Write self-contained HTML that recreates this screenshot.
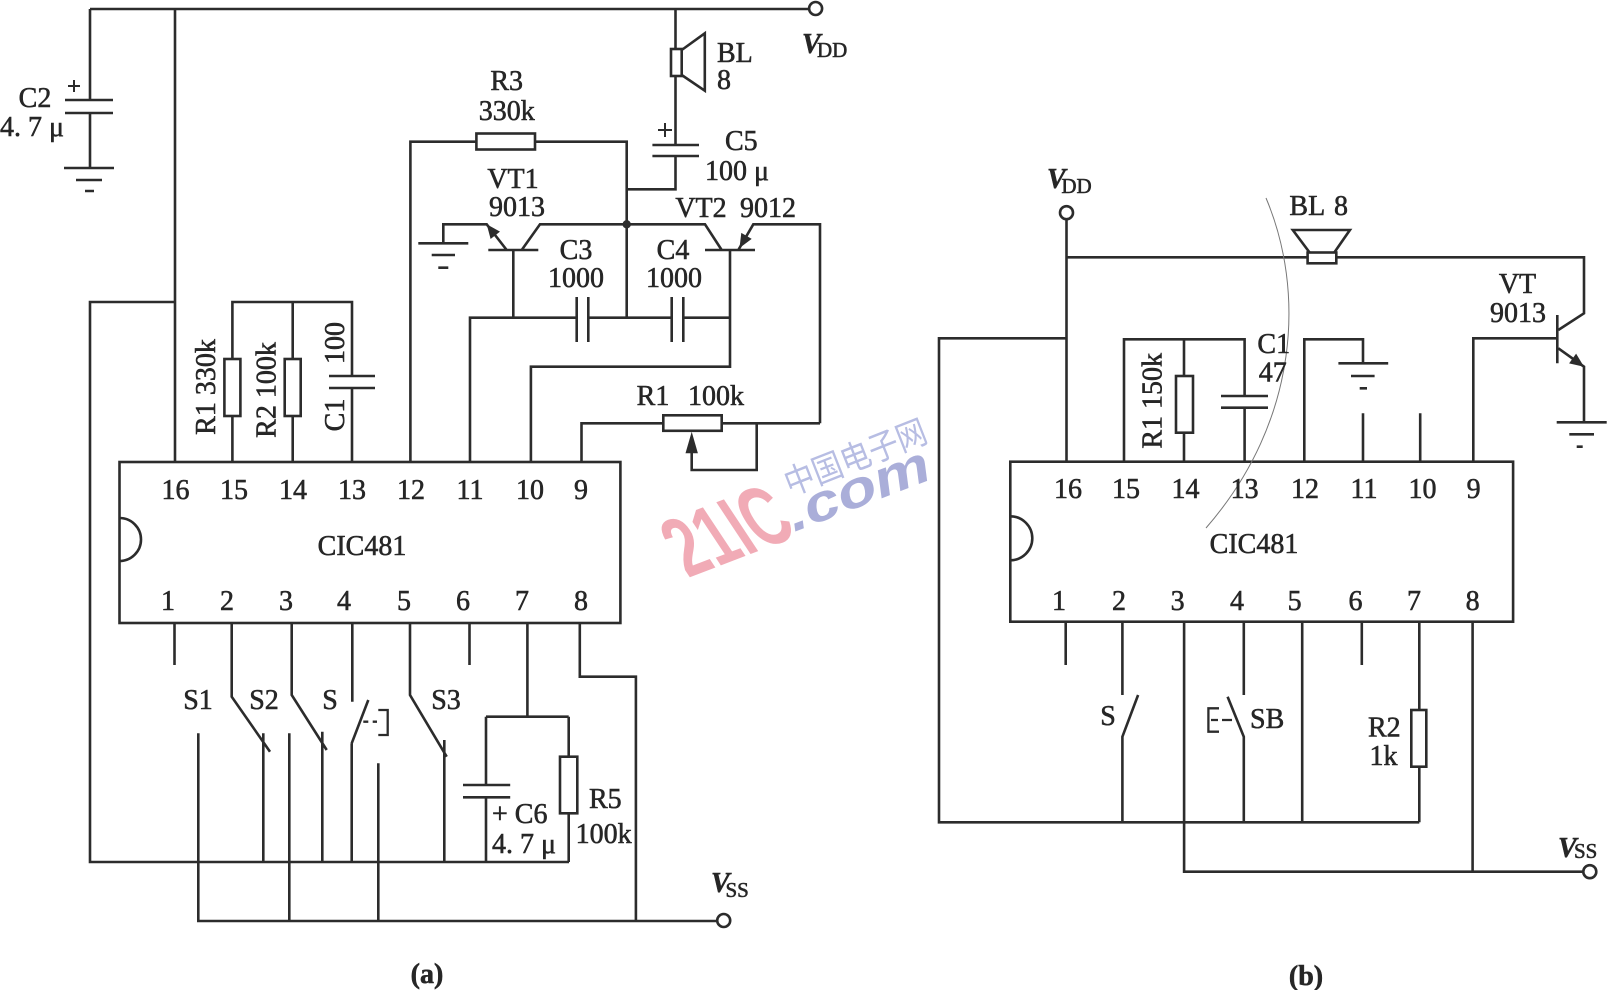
<!DOCTYPE html>
<html>
<head>
<meta charset="utf-8">
<style>
  html,body{margin:0;padding:0;background:#fff;}
  svg{display:block;}
  .w{fill:none;stroke:#2c2c2c;stroke-width:2.6;stroke-linejoin:miter;}
  .t{font-family:"Liberation Serif","Noto Serif CJK SC",serif;font-size:28px;fill:#262626;stroke:#262626;stroke-width:0.55;}
  .m{text-anchor:middle;}
  .e{text-anchor:end;}
  .vi{font-style:italic;font-weight:bold;}
  .sub{font-size:21px;}
</style>
</head>
<body>
<svg width="1608" height="990" viewBox="0 0 1608 990" xmlns="http://www.w3.org/2000/svg">
<rect width="1608" height="990" fill="#fff"/>

<!-- watermark -->
<g transform="translate(790,496) rotate(-21.5)">
  <text x="0" y="0" font-family="Noto Sans CJK SC, WenQuanYi Zen Hei, sans-serif" font-size="34" fill="#b7bde3" textLength="150" lengthAdjust="spacingAndGlyphs">中国电子网</text>
</g>
<g transform="translate(688,578) rotate(-21) skewX(12.5)">
  <text x="0" y="0" font-family="Liberation Sans, sans-serif" font-weight="bold" font-size="88" fill="#f1abb6" textLength="120" lengthAdjust="spacingAndGlyphs">21IC</text>
</g>
<g transform="translate(794,532) rotate(-21)">
  <text x="0" y="0" font-family="Liberation Sans, sans-serif" font-weight="bold" font-style="italic" font-size="52" fill="#aaaed9" textLength="150" lengthAdjust="spacingAndGlyphs">.com</text>
</g>

<!-- ================= (a) ================= -->
<g class="w">
  <path d="M90,9 H809"/>
  <circle cx="815.6" cy="8.5" r="6.5"/>
  <path d="M90,9 V100 M65,100 H113 M65,113 H113 M90,113 V168 M64,168 H114 M76,180 H102 M85,191 H94"/>
  <path d="M68,86 H80 M74,80 V92" stroke-width="2"/>
  <path d="M175,9 V462"/>
  <path d="M175,302 H90 V862 H569"/>
  <path d="M232.4,462 V416 M232.4,359 V302 H352 V376 M329,376 H375 M329,388 H375 M352,388 V462 M292.7,302 V359 M292.7,416 V462"/>
  <rect x="224.4" y="359" width="16" height="57" fill="#fff"/>
  <rect x="284.7" y="359" width="16" height="57" fill="#fff"/>
  <path d="M410.4,462 V141.7 H476.4 M535,141.7 H626.7 V317.7"/>
  <rect x="476.4" y="133.5" width="58.6" height="16" fill="#fff"/>
  <path d="M675.5,9 V49 M675.5,76 V145 M652.4,145 H699 M652.4,156 H699 M675.5,156 V189.3 H626.7"/>
  <rect x="671" y="49" width="10.7" height="27" fill="#fff"/>
  <path d="M681.7,50 L704.8,33.3 V90.7 L681.7,75"/>
  <path d="M658,130 H672 M665,123 V137" stroke-width="2"/>
  <path d="M488.3,250 H538.3 M513.3,250 V317.7 M521.7,250 L540,224.3 H626.7 M506.7,250 L486.7,224.3 H443.3 V243.3 M418.3,243.3 H468.3 M431.7,255 H455 M438.3,267.7 H448.3"/>
  <path d="M705,250 H755 M626.7,224.3 H705 L721.7,250 M738.3,250 L753.3,224.3 H820 V423.3 M730,250 V366.7 H530.9 V462"/>
  <path d="M470,462 V317.7 H576.7 M576.7,297 V342 M588.3,297 V342 M588.3,317.7 H671.7 M671.7,297 V342 M683.3,297 V342 M683.3,317.7 H730"/>
  <path d="M581.5,462 V423.3 H663.3 M721.7,423.3 H820 M756.7,423.3 V470 H691.7 V452"/>
  <rect x="663.3" y="415.3" width="58.4" height="15.5" fill="#fff"/>
  <rect x="119.5" y="462" width="500.9" height="161" fill="none"/>
  <path d="M119.5,518 A21.5,21.5 0 0 1 119.5,561"/>
  <path d="M174.5,623 V665 M469.5,623 V665"/>
  <path d="M231.7,623 V696.7 L270,751.7 M263.3,733.3 V862"/>
  <path d="M291.7,623 V695 L326.7,750 M322.3,731.7 V862"/>
  <path d="M352.3,623 V701.7 M351.7,743.3 L368.3,700 M351.7,743.3 V862"/>
  <path d="M363.3,721.7 H368.3 M372.7,721.7 H377 M378.3,710 H387.7 V735 H378.3" stroke-width="2.3"/>
  <path d="M410,623 V695 L446.7,756.7 M444.3,740 V862"/>
  <path d="M527.4,623 V716.7 M486,716.7 H568.7 M486,716.7 V785 M463,785 H510.2 M463,797.3 H510.2 M486,797.3 V862 M568.7,716.7 V756.7 M568.7,813.3 V862"/>
  <rect x="560" y="756.7" width="17.3" height="56.6" fill="#fff"/>
  <path d="M579.8,623 V676.7 H635.9 V921"/>
  <path d="M198.3,733.3 V921 H717.2 M289.3,733.3 V921 M378.3,763.3 V921"/>
  <circle cx="723.7" cy="920.5" r="6.5"/>
</g>
<circle cx="626.7" cy="224.3" r="4.2" fill="#2c2c2c"/>
<polygon points="486.7,224.3 500.0,231.6 490.6,239.0" fill="#2c2c2c"/>
<polygon points="739.5,248 751.7,238.9 741.3,232.9" fill="#2c2c2c"/>
<polygon points="691.7,431.7 685.5,453.3 697.9,453.3" fill="#2c2c2c"/>

<g class="t">
  <text x="35" y="107" class="m">C2</text>
  <text x="64" y="136" class="e">4. 7 μ</text>
  <text x="506.7" y="90" class="m">R3</text>
  <text x="506.7" y="120" class="m">330k</text>
  <text x="717" y="62">BL</text>
  <text x="717" y="89">8</text>
  <text x="802" y="53" class="vi">V</text><text x="817" y="57" class="sub">DD</text>
  <text x="725" y="150">C5</text>
  <text x="705" y="180">100 μ</text>
  <text x="513" y="188" class="m">VT1</text>
  <text x="517" y="216" class="m">9013</text>
  <text x="701" y="217" class="m">VT2</text>
  <text x="768" y="217" class="m">9012</text>
  <text x="576" y="259" class="m">C3</text>
  <text x="576" y="287" class="m">1000</text>
  <text x="673" y="259" class="m">C4</text>
  <text x="674" y="287" class="m">1000</text>
  <text x="653" y="405" class="m">R1</text>
  <text x="716" y="405" class="m">100k</text>
  <text transform="translate(215,387) rotate(-90)" class="m">R1 330k</text>
  <text transform="translate(275.5,390) rotate(-90)" class="m">R2 100k</text>
  <text transform="translate(344,415) rotate(-90)" class="m">C1</text>
  <text transform="translate(344,343) rotate(-90)" class="m">100</text>
  <text x="175.5" y="499" class="m">16</text>
  <text x="234" y="499" class="m">15</text>
  <text x="293" y="499" class="m">14</text>
  <text x="352" y="499" class="m">13</text>
  <text x="411" y="499" class="m">12</text>
  <text x="470" y="499" class="m">11</text>
  <text x="530" y="499" class="m">10</text>
  <text x="581" y="499" class="m">9</text>
  <text x="362" y="555" class="m">CIC481</text>
  <text x="168" y="610" class="m">1</text>
  <text x="227" y="610" class="m">2</text>
  <text x="286" y="610" class="m">3</text>
  <text x="344" y="610" class="m">4</text>
  <text x="404" y="610" class="m">5</text>
  <text x="463" y="610" class="m">6</text>
  <text x="522" y="610" class="m">7</text>
  <text x="581" y="610" class="m">8</text>
  <text x="198" y="709" class="m">S1</text>
  <text x="264" y="709" class="m">S2</text>
  <text x="330" y="709" class="m">S</text>
  <text x="446" y="709" class="m">S3</text>
  <text x="492" y="823">+ C6</text>
  <text x="492" y="853">4. 7 μ</text>
  <text x="589" y="808">R5</text>
  <text x="575.6" y="843">100k</text>
  <text x="711" y="892" class="vi">V</text><text x="725.5" y="897" class="sub">SS</text>
  <text x="427" y="983" class="m" font-weight="bold">(a)</text>
</g>

<!-- ================= (b) ================= -->
<g class="w">
  <circle cx="1066.5" cy="212.7" r="6.5"/>
  <path d="M1066.5,219.2 V461.7"/>
  <path d="M1066.5,257.3 H1584 V313.3 L1558.3,330"/>
  <rect x="1307.6" y="252.5" width="28.7" height="10.8" fill="#fff"/>
  <path d="M1309.6,252.5 L1292.8,230 H1349.9 L1334.3,252.5"/>
  <path d="M1557.3,315 V363.3 M1473.3,461.7 V338.3 H1557.3 M1558.3,348.3 L1584,366.7 V422.3 M1556.7,422.3 H1606.7 M1569.3,434.3 H1594 M1576.7,446.7 H1582.7"/>
  <path d="M1066.5,338.3 H939 V822.3 H1419.3"/>
  <path d="M1124,461.7 V339.3 H1244.6 V396 M1221,396 H1268 M1221,407.7 H1268 M1244.6,407.7 V461.7 M1184,339.3 V376 M1184,432.7 V461.7"/>
  <rect x="1176" y="376" width="17" height="56.7" fill="#fff"/>
  <path d="M1304.3,461.7 V339.3 H1363 V363.3 M1338.4,363.3 H1388.2 M1351,376 H1374.6 M1359.7,388.3 H1367"/>
  <path d="M1363,461.7 V413.3 M1420.2,461.7 V413.3"/>
  <rect x="1010.3" y="461.7" width="502.8" height="160" fill="none"/>
  <path d="M1010.3,516.3 A22,22 0 0 1 1010.3,560.3"/>
  <path d="M1065.7,621.7 V665 M1361.8,621.7 V665"/>
  <path d="M1122.4,621.7 V695 M1138.1,695 L1122.4,736.7 V822.3"/>
  <path d="M1243.8,621.7 V695 M1227.6,696.7 L1243.8,736.7 V822.3"/>
  <path d="M1219,708.3 H1208.4 V731.7 H1219 M1211,720 H1218 M1222,720 H1232" stroke-width="2.3"/>
  <path d="M1184.1,621.7 V871.7 H1583.3"/>
  <circle cx="1589.8" cy="871.7" r="6.5"/>
  <path d="M1302.2,621.7 V822.3"/>
  <path d="M1419.3,621.7 V710 M1419.3,766.7 V822.3"/>
  <rect x="1411.3" y="710" width="15" height="56.7" fill="#fff"/>
  <path d="M1472.6,621.7 V871.7"/>
</g>
<polygon points="1584,366.7 1569.1,363.4 1576.1,353.6" fill="#2c2c2c"/>
<path d="M1266,198 C1305,290 1300,420 1206,528" fill="none" stroke="#777" stroke-width="1"/>

<g class="t">
  <text x="1047" y="188" class="vi">V</text><text x="1061.4" y="193" class="sub">DD</text>
  <text x="1289.4" y="215">BL</text>
  <text x="1334" y="215">8</text>
  <text x="1517.5" y="293" class="m">VT</text>
  <text x="1518" y="322" class="m">9013</text>
  <text x="1257.4" y="353">C1</text>
  <text x="1258.7" y="381.7">47</text>
  <text transform="translate(1161.6,400.8) rotate(-90)" class="m">R1 150k</text>
  <text x="1068" y="498" class="m">16</text>
  <text x="1126" y="498" class="m">15</text>
  <text x="1185.5" y="498" class="m">14</text>
  <text x="1244.6" y="498" class="m">13</text>
  <text x="1305" y="498" class="m">12</text>
  <text x="1364" y="498" class="m">11</text>
  <text x="1422.5" y="498" class="m">10</text>
  <text x="1473.6" y="498" class="m">9</text>
  <text x="1254" y="553" class="m">CIC481</text>
  <text x="1059" y="610" class="m">1</text>
  <text x="1119" y="610" class="m">2</text>
  <text x="1177.6" y="610" class="m">3</text>
  <text x="1237" y="610" class="m">4</text>
  <text x="1294.6" y="610" class="m">5</text>
  <text x="1355.5" y="610" class="m">6</text>
  <text x="1414" y="610" class="m">7</text>
  <text x="1472.6" y="610" class="m">8</text>
  <text x="1108" y="725" class="m">S</text>
  <text x="1250" y="728">SB</text>
  <text x="1368" y="736.7">R2</text>
  <text x="1369.5" y="765">1k</text>
  <text x="1558" y="857" class="vi">V</text><text x="1574" y="858" class="sub">SS</text>
  <text x="1306" y="985" class="m" font-weight="bold">(b)</text>
</g>
</svg>
</body>
</html>
